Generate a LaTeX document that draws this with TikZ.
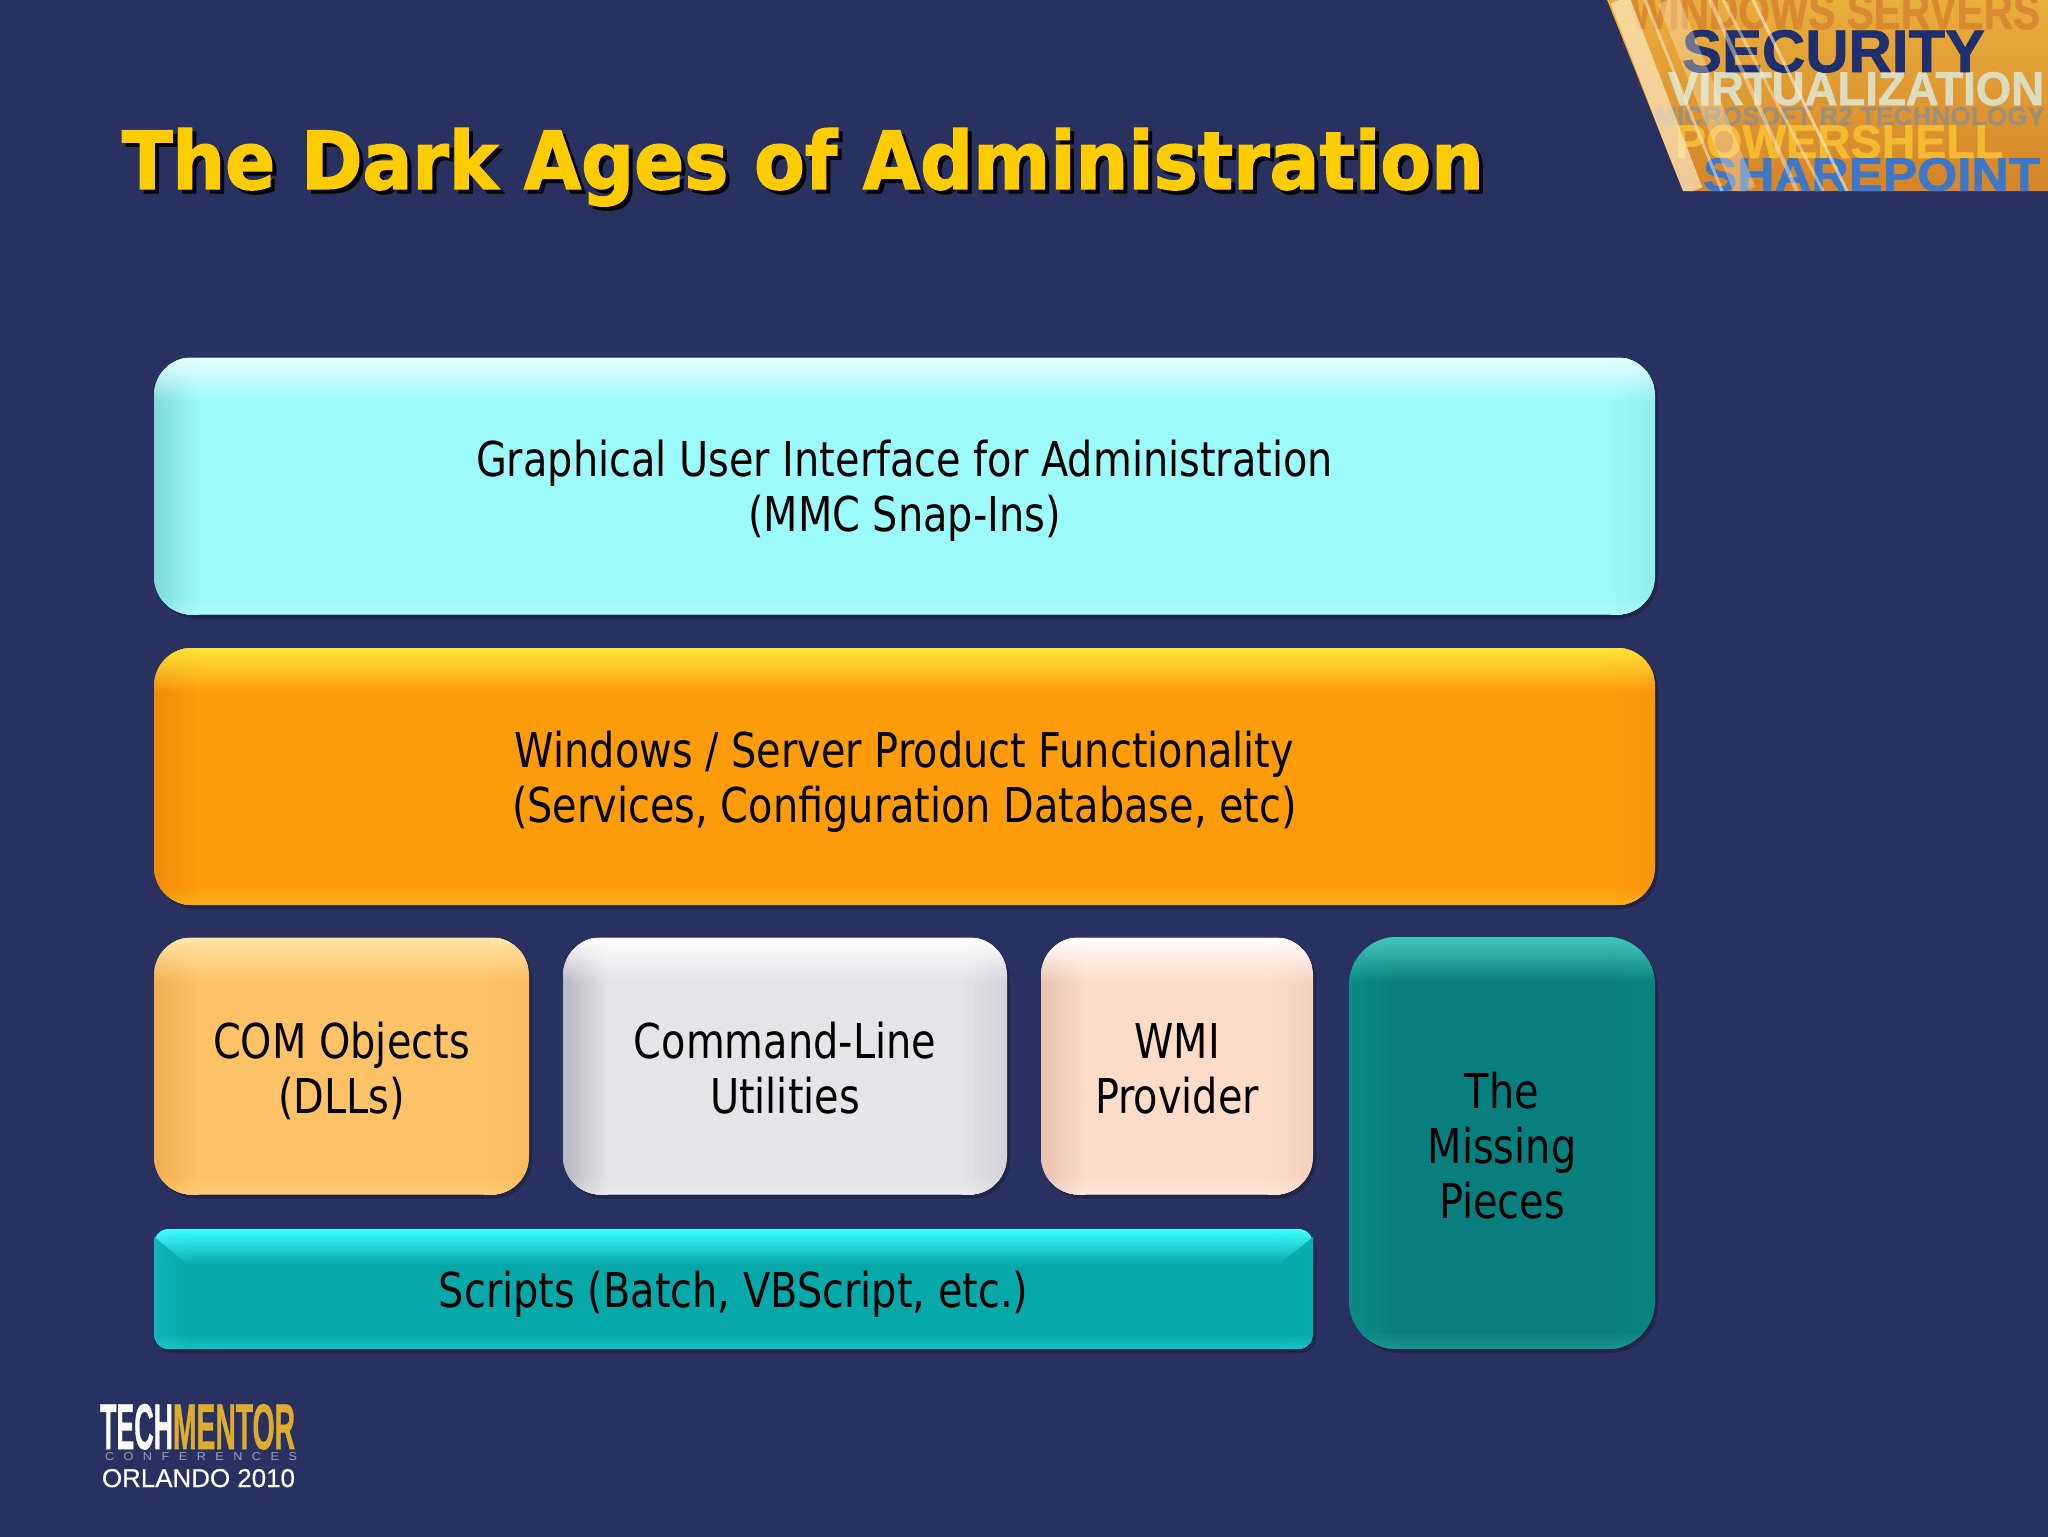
\documentclass[tikz,border=0pt]{standalone}
\usepackage{fontspec}
\setmainfont{DejaVu Sans}
\newfontfamily\bodyfont[FakeStretch=0.83]{DejaVu Sans}
\newfontfamily\titlefont[BoldFeatures={FakeStretch=0.925,FakeBold=1.8}]{DejaVu Sans}
\newfontfamily\logofont[BoldFeatures={FakeBold=1.2}]{Liberation Sans}
\newfontfamily\orlandofont[FakeBold=0.5]{Liberation Sans}
\newfontfamily\conffont[LetterSpace=75]{Liberation Sans}
\usetikzlibrary{fadings,shadows}
\definecolor{slidebg}{HTML}{28315F}
\definecolor{titleyellow}{HTML}{FFCC00}
\definecolor{bannertop}{HTML}{E9AE3C}
\definecolor{bannerbot}{HTML}{D58428}
\definecolor{streak}{HTML}{FFEFD0}
\definecolor{bwin}{HTML}{D98A30}
\definecolor{bvirt}{HTML}{DCDCC0}
\definecolor{bms}{HTML}{A08F78}
\definecolor{bpow}{HTML}{F5BA34}
\definecolor{bshare}{HTML}{3D78C8}
\definecolor{bsec}{HTML}{20306E}
\definecolor{guibase}{HTML}{9CFAFB}\definecolor{guitop}{HTML}{E8FFFF}\definecolor{guiside}{HTML}{80DADA}
\definecolor{prodbase}{HTML}{FF9C0C}\definecolor{prodtop}{HTML}{FFE437}\definecolor{prodside}{HTML}{F08C08}
\definecolor{combase}{HTML}{FFC266}\definecolor{comtop}{HTML}{FFE6A8}\definecolor{comside}{HTML}{F0B050}
\definecolor{cmdbase}{HTML}{E4E4E9}\definecolor{cmdtop}{HTML}{FFFFFF}\definecolor{cmdside}{HTML}{B8B8C0}
\definecolor{wmibase}{HTML}{FFDCC8}\definecolor{wmitop}{HTML}{FFFFFF}\definecolor{wmiside}{HTML}{E8C4B0}
\definecolor{scrbase}{HTML}{06A8A8}\definecolor{scrtop}{HTML}{40FFFF}\definecolor{scrside}{HTML}{10B4B4}
\definecolor{misbase}{HTML}{087E7E}\definecolor{mistop}{HTML}{45C8C0}\definecolor{misside}{HTML}{0A8C88}
\definecolor{logogold}{HTML}{E0AC30}
\definecolor{logograyblue}{HTML}{9AA0C0}
\tikzfading[name=fadeTop,top color=transparent!0,bottom color=transparent!100]
\tikzfading[name=fadeBottom,bottom color=transparent!0,top color=transparent!100]
\newcommand{\fitbox}[3]{\resizebox{\dimexpr #1pt/2\relax}{\dimexpr #2pt/2\relax}{#3}}
\newcommand{\topl}{\rule{0pt}{23.2pt}}
\newcommand{\botl}{\rule[-3.2pt]{0pt}{3.2pt}}
\tikzset{
  x=0.5pt,y=-0.5pt,
  glossbox/.style n args={7}{
    minimum width=#1*0.5pt,minimum height=#2*0.5pt,rounded corners=#3*0.5pt,
    inner sep=0pt,outer sep=0pt,align=center,
    fill=#4,
    font=\bodyfont\fontsize{24}{27.5}\selectfont,text=black,
    drop shadow={shadow xshift=1.5pt,shadow yshift=-2pt,fill=black,opacity=0.22},
    path picture={
      \foreach \i [evaluate=\i as \m using int(100-\i*100/15),evaluate=\i as \n using int(40-\i*40/15)] in {0,...,14}{
        \fill[sharp corners,#6!\m!#4]
          ([xshift=\i*#7/15*0.5pt]path picture bounding box.north west) rectangle ([xshift=#7*0.5pt]path picture bounding box.south west);
        \fill[sharp corners,#6!\n!#4]
          ([xshift=-\i*#7/15*0.5pt]path picture bounding box.north east) rectangle ([xshift=-#7*0.5pt]path picture bounding box.south east);
      }
      \fill[sharp corners,#5,path fading=fadeTop]
        (path picture bounding box.north west) rectangle ([yshift=-#7*0.5pt]path picture bounding box.north east);
      \fill[sharp corners,#5,opacity=0.3,path fading=fadeBottom]
        ([yshift=#7*0.2pt]path picture bounding box.south west) rectangle (path picture bounding box.south east);
    }
  },
  logotext/.style={anchor=base west,inner sep=0pt,outer sep=0pt},
  titletext/.style={anchor=base west,inner sep=0pt,outer sep=0pt,font=\titlefont\bfseries\fontsize{40}{48}\selectfont},
}
\begin{document}
\begin{tikzpicture}
\useasboundingbox (0,0) rectangle (2048,1536);
\fill[slidebg] (-6,-6) rectangle (2054,1542);

% banner
\begin{scope}
\clip (1607,0) -- (2048,0) -- (2048,191) -- (1683,191) -- cycle;
\fill[top color=bannertop,bottom color=bannerbot] (1600,0) rectangle (2048,191);
\node[logotext,text=bwin] (b1) at (1630,29)
  {\logofont\bfseries\fitbox{410}{36}{WINDOWS SERVERS}};
\node[logotext,text=bvirt] (b3) at (1668,105)
  {\logofont\bfseries\fitbox{376}{33}{VIRTUALIZATION}};
\node[logotext,text=bms] (b4) at (1655,125)
  {\logofont\bfseries\fitbox{390}{18}{MICROSOFT R2 TECHNOLOGY}};
\node[logotext,text=bpow] (b5) at (1675,158)
  {\logofont\bfseries\fitbox{328}{33}{POWERSHELL}};
\node[logotext,text=bshare] (b6) at (1703,191)
  {\logofont\bfseries\fitbox{337}{33}{SHAREPOINT}};
\node[logotext,text=bsec] (b2) at (1682,72)
  {\logofont\bfseries\fitbox{303}{42}{SECURITY}};
\foreach \a/\b/\w/\o in {1620/1693/20/0.65,1645/1722/3/0.5,1668/1745/22/0.35,1710/1797/4/0.45,1723/1823/3/0.45,1753/1847/3/0.6}{
  \draw[line width=\w*0.5pt,draw=streak,opacity=\o] (\a,0) -- (\b,191);
}
\end{scope}

% title
\node[titletext,text=black] (titleshadow) at (126,193) {The Dark Ages of Administration};
\node[titletext,text=titleyellow] (title) at (122,189) {The Dark Ages of Administration};

% boxes
\node[glossbox={1501}{257}{38}{guibase}{guitop}{guiside}{45}] (gui) at (904.5,486)
  {\topl Graphical User Interface for Administration\\(MMC Snap-Ins)\botl};
\node[glossbox={1501}{257}{38}{prodbase}{prodtop}{prodside}{45}] (prod) at (904.5,776.5)
  {\topl Windows / Server Product Functionality\\(Services, Configuration Database, etc)\botl};
\node[glossbox={375}{257}{38}{combase}{comtop}{comside}{45}] (com) at (341.5,1066)
  {\topl COM Objects\\(DLLs)\botl};
\node[glossbox={444}{257}{38}{cmdbase}{cmdtop}{cmdside}{45}] (cmd) at (785,1066)
  {\topl Command-Line\\Utilities\botl};
\node[glossbox={272}{257}{38}{wmibase}{wmitop}{wmiside}{45}] (wmi) at (1177,1066)
  {\topl WMI\\Provider\botl};
\node[glossbox={1159}{120}{15}{scrbase}{scrtop}{scrside}{36}] (scripts) at (733.5,1289)
  {\rule{0pt}{23.4pt}Scripts (Batch, VBScript, etc.)\botl};
\foreach \i [evaluate=\i as \m using int(100-\i*100/12),evaluate=\i as \n using int(40-\i*40/12)] in {0,...,11}{
  \fill[scrside!\m!scrbase] (154+\i*3,1237+\i*3) -- (190,1266) -- (154+\i*3,1266) -- cycle;
  \fill[scrside!\n!scrbase] (1313-\i*3,1237+\i*3) -- (1277,1266) -- (1313-\i*3,1266) -- cycle;
}
\node[glossbox={306}{412}{48}{misbase}{mistop}{misside}{45}] (missing) at (1502,1143)
  {\topl The\\Missing\\Pieces\botl};

% logo
\node[logotext,text=white] (tech) at (100,1449)
  {\logofont\bfseries\fitbox{73}{45}{TECH}};
\node[logotext,text=logogold] (mentor) at (173,1449)
  {\logofont\bfseries\fitbox{122}{45}{MENTOR}};
\node[logotext,text=logograyblue] (conf) at (105,1460)
  {\conffont\fitbox{192}{8}{CONFERENCES}};
\node[logotext,text=white] (orlando) at (102,1487)
  {\orlandofont\fitbox{193}{18}{ORLANDO 2010}};
\end{tikzpicture}
\end{document}
